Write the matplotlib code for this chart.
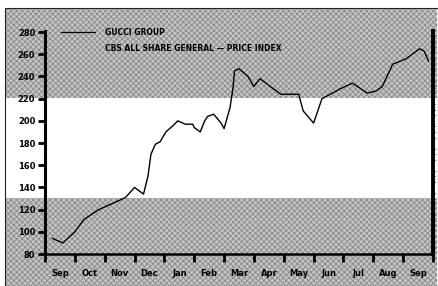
"""Gucci Group share price chart, Sep to Sep."""

import matplotlib

matplotlib.use("Agg")
import matplotlib.pyplot as plt
from matplotlib.patches import Rectangle

# months since start of September (x) and price index (y)
month_pos = [0.25, 0.6, 1.0, 1.3, 1.8, 2.3, 2.7, 3.0, 3.3, 3.45, 3.55, 3.7,
             3.85, 4.05, 4.3, 4.45, 4.7, 4.95, 5.0, 5.2, 5.35, 5.45, 5.65,
             5.9, 6.0, 6.2, 6.3, 6.35, 6.5, 6.8, 7.0, 7.2, 7.9, 8.5, 8.65,
             9.0, 9.28, 9.9, 10.3, 10.8, 11.1, 11.3, 11.65, 12.1, 12.55,
             12.7, 12.85]
gucci = [94, 90, 100, 111, 120, 126, 131, 140, 134, 150, 170, 179,
         181, 190, 196, 200, 197, 197, 194, 190, 200, 204, 206,
         198, 193, 212, 230, 245, 247, 240, 231, 238, 224, 224, 209,
         198, 220, 229, 234, 225, 227, 231, 251, 256, 265,
         263, 254]

month_labels = ["Sep", "Oct", "Nov", "Dec", "Jan", "Feb", "Mar",
                "Apr", "May", "Jun", "Jul", "Aug", "Sep"]
y_ticks = [80, 100, 120, 140, 160, 180, 200, 220, 240, 260, 280]
series_names = ["GUCCI GROUP", "CBS ALL SHARE GENERAL \u2014 PRICE INDEX"]

GRAY = "#c4c4c4"
plt.rcParams["hatch.color"] = "#8a8a8a"
plt.rcParams["hatch.linewidth"] = 0.6

fig = plt.figure(figsize=(4.39, 2.86), dpi=100)
fig.patch.set_facecolor("white")

# background axis over the whole figure for the shaded (halftone) bands
W, H = 439.0, 286.0
bg = fig.add_axes([0, 0, 1, 1], zorder=0)
bg.set_xlim(0, W)
bg.set_ylim(H, 0)
bg.axis("off")
bg.add_patch(Rectangle((6, 198), 431, 88, facecolor=GRAY, hatch="xxxxxx",
                       linewidth=0))
bg.add_patch(Rectangle((6, 9), 431, 89, facecolor=GRAY, hatch="xxxxxx",
                       linewidth=0))
bg.add_patch(Rectangle((5, 8), 433, 278, fill=False, edgecolor="#222222",
                       linewidth=0.8))

ax = fig.add_axes([45 / W, (H - 254) / H, 388 / W, 223 / H], zorder=2)
ax.patch.set_alpha(0)

ax.plot(month_pos, gucci, color="black", linewidth=1.0, zorder=3)

ax.set_xlim(0, 13)
ax.set_ylim(80, 281)

ax.spines["top"].set_visible(False)
ax.spines["left"].set_linewidth(2.2)
ax.spines["bottom"].set_linewidth(1.8)
ax.spines["right"].set_linewidth(2.8)

ax.set_yticks(y_ticks)
ax.set_yticklabels([str(v) for v in y_ticks], fontsize=6, fontweight="bold")
ax.tick_params(axis="y", direction="out", length=5, width=2, pad=2)
ax.set_yticks(range(80, 281, 5), minor=True)
ax.tick_params(axis="y", which="minor", left=False, right=True,
               direction="out", length=1.5, width=0.8)

ax.set_xticks(range(0, 14))
ax.set_xticklabels([])
ax.tick_params(axis="x", direction="out", length=6, width=2)
ax.set_xticks([i + 0.5 for i in range(13)], minor=True)
ax.set_xticklabels(month_labels, minor=True, fontsize=6, fontweight="bold")
ax.tick_params(axis="x", which="minor", length=0, pad=11)

# legend block
ax.plot([0.04, 0.13], [0.995, 0.995], transform=ax.transAxes,
        color="black", linewidth=0.9, clip_on=False)
ax.text(0.155, 0.995, series_names[0], transform=ax.transAxes,
        fontsize=5.5, fontweight="bold", va="center")
ax.text(0.155, 0.92, series_names[1], transform=ax.transAxes,
        fontsize=5.5, fontweight="bold", va="center")

fig.savefig("out.png", dpi=100)
